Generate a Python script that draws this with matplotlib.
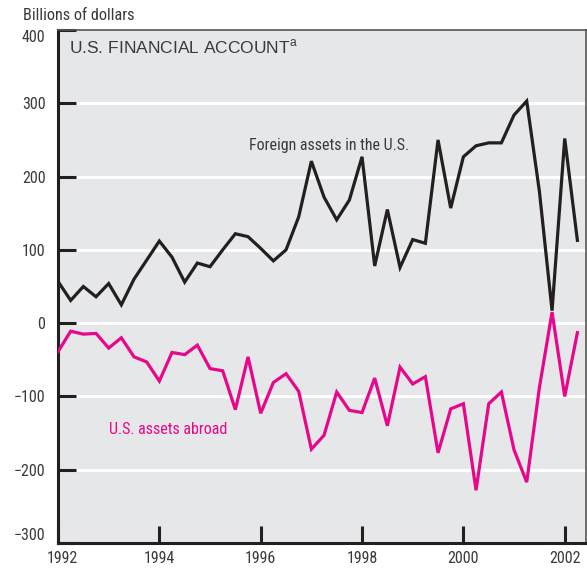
import matplotlib
matplotlib.use("Agg")
import matplotlib.pyplot as plt
from matplotlib import font_manager
import matplotlib.transforms as mtransforms
import numpy as np

# quarterly data, 1992Q1 - 2002Q2, billions of dollars
foreign_assets_in_us = [57, 31, 50, 36, 54, 25, 60, 86, 112, 90,
                        56, 82, 77, 100, 122, 118, 102, 85, 100, 145,
                        221, 172, 141, 168, 227, 78, 155, 76, 114, 109,
                        250, 157, 227, 242, 246, 246, 284, 303, 180, 17,
                        252, 113]
us_assets_abroad = [-39, -11, -15, -14, -34, -20, -46, -53, -79, -40,
                    -43, -30, -62, -65, -118, -46, -123, -81, -69, -93,
                    -172, -153, -94, -119, -122, -75, -140, -60, -83, -73,
                    -177, -117, -110, -228, -110, -94, -173, -217, -88, 15,
                    -100, -13]
quarters = 1992 + np.arange(len(foreign_assets_in_us)) / 4.0

year_ticks = [1992, 1994, 1996, 1998, 2000, 2002]
value_ticks = [-300, -200, -100, 0, 100, 200, 300, 400]

names = set(f.name for f in font_manager.fontManager.ttflist)
narrow = [n for n in ['Liberation Sans Narrow', 'Roboto Condensed', 'Open Sans Condensed',
                      'DejaVu Sans Condensed'] if n in names] + ['DejaVu Sans']
nfont = dict(family=narrow, stretch='condensed')

plt.rcParams['mathtext.fontset'] = 'custom'
plt.rcParams['mathtext.rm'] = 'Liberation Sans'

black = '#231f20'
pink = '#e8078a'
gray = '#3a3a3a'

fig = plt.figure(figsize=(5.87, 5.73), dpi=100)
ax = fig.add_axes([58/587, 30/573, 528/587, 513/573])
ax.set_facecolor('#e6e7e9')

for v in value_ticks[1:-1]:
    ax.axhline(v, color='white', lw=2.2, zorder=1)

ax.plot(quarters, foreign_assets_in_us, color=black, lw=2.3, zorder=3,
        solid_joinstyle='miter')
ax.plot(quarters, us_assets_abroad, color=pink, lw=2.3, zorder=3,
        solid_joinstyle='miter')

ax.set_xlim(1992, 2002.42)
ax.set_ylim(-300, 400)
ax.set_xticks(year_ticks)
ax.set_yticks(value_ticks)
ax.set_xticklabels([str(y) for y in year_ticks], fontsize=11.5, color=gray, **nfont)
ax.set_yticklabels(['\u2212' + str(-v) if v < 0 else str(v) for v in value_ticks],
                   fontsize=11.5, color=gray, **nfont)
ax.tick_params(axis='y', direction='in', length=13, width=2.2, color=black, pad=9)
ax.tick_params(axis='x', direction='in', length=12, width=2.2, color=black, pad=6)
lbls = ax.get_yticklabels()
lbls[-1].set_va('top')
lbls[0].set_va('bottom')
# first year label sits a little right of its tick, as in the original
xl = ax.get_xticklabels()[0]
xl.set_transform(xl.get_transform() + mtransforms.ScaledTranslation(4.5/100, 0, fig.dpi_scale_trans))

for s in ['left', 'bottom']:
    ax.spines[s].set_linewidth(2.2)
    ax.spines[s].set_color(black)
for s in ['top', 'right']:
    ax.spines[s].set_linewidth(1.2)
    ax.spines[s].set_color('#555555')

ax.text(0.02, 0.985, r'U.S. FINANCIAL ACCOUNT$^{\mathrm{a}}$', transform=ax.transAxes,
        family='Liberation Sans', fontsize=12.5, color=gray, va='top', ha='left')
ax.text(1995.77, 243, 'Foreign assets in the U.S.', fontsize=11.5,
        color=gray, va='center', ha='left', **nfont)
ax.text(1993.0, -145, 'U.S. assets abroad', fontsize=11.5,
        color=pink, va='center', ha='left', **nfont)

fig.text(23/587, 1 - 15/573, 'Billions of dollars', fontsize=11.7,
         color=gray, va='center', ha='left', **nfont)

fig.savefig('out.png', dpi=100)
